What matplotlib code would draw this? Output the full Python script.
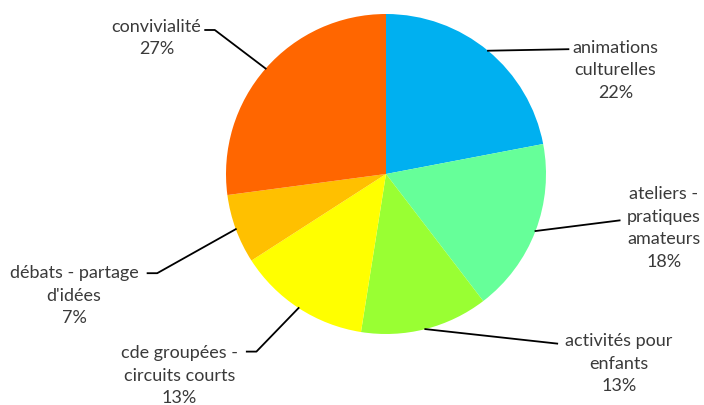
import numpy as np
import matplotlib
matplotlib.use('Agg')
import matplotlib.pyplot as plt

# Share of answers per activity (percent)
categories = ['animations\nculturelles', 'ateliers -\npratiques\namateurs',
              'activités pour\nenfants', 'cde groupées -\ncircuits courts',
              'débats - partage\nd\'idées', 'convivialité']
values = [22.0, 17.6, 12.9, 13.4, 7.0, 27.1]
colors = ['#00B0F0', '#66FF99', '#99FF33', '#FFFF00', '#FFC000', '#FF6600']

# label layout in pie units (radius = 1): leader elbow, leader end, text centre
elbows = [(1.14, 0.78), (1.46, -0.29), (1.07, -1.06),
          (-0.81, -1.11), (-1.43, -0.62), (-1.07, 0.90)]
ends = [(1.14, 0.78), (1.46, -0.29), (1.07, -1.06),
        (-0.87, -1.11), (-1.49, -0.62), (-1.13, 0.90)]
text_pos = [(1.435, 0.655), (1.735, -0.33), (1.455, -1.18),
            (-1.29, -1.255), (-1.95, -0.755), (-1.435, 0.855)]

fig = plt.figure(figsize=(7.04, 4.06), dpi=100)
ax = fig.add_axes([226 / 704, 71 / 406, 320 / 704, 320 / 406])

wedges, _ = ax.pie(values, colors=colors, startangle=90, counterclock=False,
                   radius=1, wedgeprops=dict(linewidth=0))
ax.set_xlim(-1, 1)
ax.set_ylim(-1, 1)
ax.axis('off')

total = sum(values)
for i, w in enumerate(wedges):
    ang = np.deg2rad((w.theta1 + w.theta2) / 2)
    x0, y0 = np.cos(ang), np.sin(ang)
    xs = [x0, elbows[i][0], ends[i][0]]
    ys = [y0, elbows[i][1], ends[i][1]]
    ax.plot(xs, ys, color='black', lw=1.3, clip_on=False)
    pct = round(values[i] / total * 100)
    ax.text(text_pos[i][0], text_pos[i][1], f'{categories[i]}\n{pct}%',
            ha='center', va='center', fontsize=13, color='#3a3a3a',
            family=['Lato', 'DejaVu Sans'], linespacing=1.5, clip_on=False)

fig.savefig('out.png', dpi=100)
